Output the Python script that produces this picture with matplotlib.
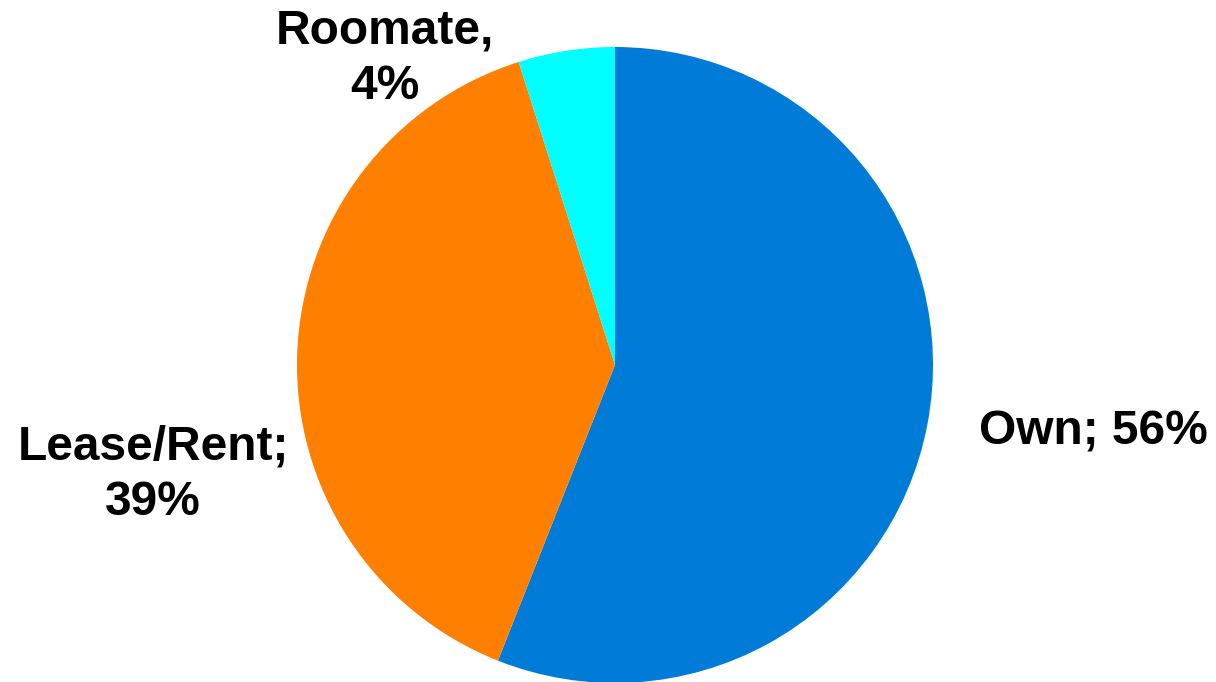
import matplotlib.pyplot as plt

plt.rcParams['font.family'] = ['Liberation Sans', 'DejaVu Sans']

categories = ['Own', 'Lease/Rent', 'Roomate']
shares = [56.0, 39.1, 4.9]
label_texts = ['Own; 56%', 'Lease/Rent;\n39%', 'Roomate,\n4%']
colors = ['#007BD7', '#FF7F00', '#00FFFF']

# label anchor points in pixel space (figure is 1216x682)
label_pos = [(1093, 250), (153, 207), (385, 623)]

fig = plt.figure(figsize=(12.16, 6.82), dpi=100)
ax = fig.add_axes([0, 0, 1, 1])

ax.pie(shares, colors=colors, startangle=90, counterclock=False,
       center=(615, 317), radius=318, frame=True,
       wedgeprops=dict(linewidth=0))
ax.set_xlim(0, 1216)
ax.set_ylim(0, 682)
ax.set_aspect('equal')
ax.axis('off')

for txt, (x, y) in zip(label_texts, label_pos):
    ax.text(x, y, txt, ha='center', va='center', fontsize=34.5,
            fontweight='bold', color='black', linespacing=1.3)

fig.savefig('out.png', dpi=100)
